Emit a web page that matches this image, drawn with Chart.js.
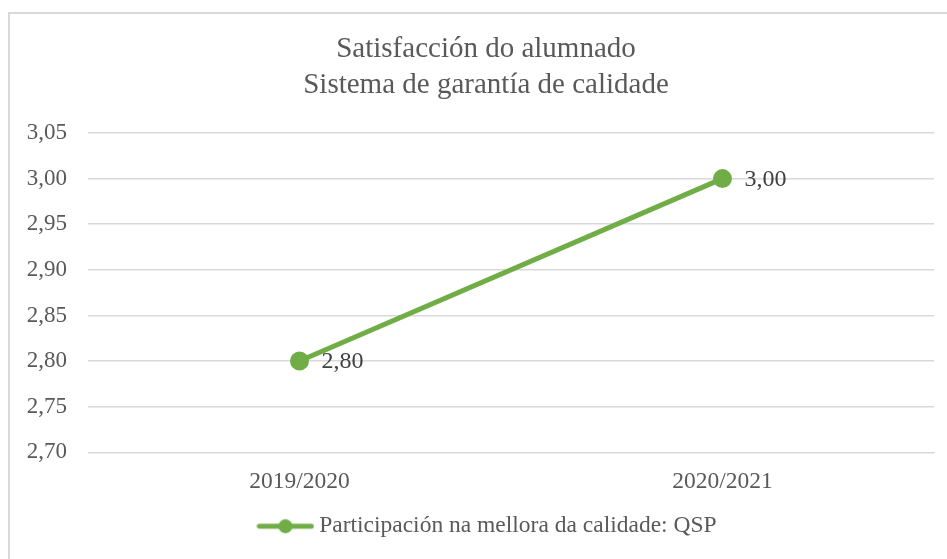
<!DOCTYPE html>
<html>
<head>
<meta charset="utf-8">
<script src="https://cdn.jsdelivr.net/npm/chart.js@4/dist/chart.umd.min.js"></script>
<style>
  html, body { margin: 0; padding: 0; background: #fff; }
  #caja { position: absolute; left: 0; top: 0; width: 947px; height: 559px; }
</style>
</head>
<body>
<div id="caja"><canvas id="grafica" width="947" height="559"></canvas></div>
<script>
// datos del grafico
const cursos = ["2019/2020", "2020/2021"];
const valores_qsp = [2.80, 3.00];
const nombre_serie = "Participación na mellora da calidade: QSP";
const titulo = ["Satisfacción do alumnado", "Sistema de garantía de calidade"];

const verde = "#70AD47";
const gris = "#595959";
const fuente = "'Liberation Serif', 'DejaVu Serif', serif";

function coma(v) {
    return v.toFixed(2).replace(".", ",");
}

// icono de la leyenda: linea con punto
const icono = document.createElement("canvas");
icono.width = 58;
icono.height = 16;
const ictx = icono.getContext("2d");
ictx.strokeStyle = verde;
ictx.lineWidth = 5;
ictx.lineCap = "round";
ictx.beginPath();
ictx.moveTo(3, 8);
ictx.lineTo(55, 8);
ictx.stroke();
ictx.fillStyle = verde;
ictx.beginPath();
ictx.arc(29, 8, 7, 0, Math.PI * 2);
ictx.fill();

// borde y titulo (el titulo va algo desplazado a la derecha, como en el original)
const borde = {
    id: "borde",
    afterLayout(chart) {
        // la leyenda tambien esta un poco a la derecha
        chart.legend.left += 14;
        chart.legend.right += 14;
    },
    beforeDraw(chart) {
        const c = chart.ctx;
        c.save();
        c.strokeStyle = "#d9d9d9";
        c.lineWidth = 2;
        c.strokeRect(9, 13, 946, 560);
        c.font = "29px " + fuente;
        c.fillStyle = gris;
        c.textAlign = "center";
        c.textBaseline = "middle";
        titulo.forEach((linea, i) => {
            c.fillText(linea, 486, 49 + i * 36);
        });
        c.restore();
    }
};

// etiquetas de datos a la derecha de cada punto
const etiquetas = {
    id: "etiquetas",
    afterDatasetsDraw(chart) {
        const c = chart.ctx;
        const meta = chart.getDatasetMeta(0);
        c.save();
        c.font = "24px " + fuente;
        c.fillStyle = "#404040";
        c.textAlign = "left";
        c.textBaseline = "middle";
        meta.data.forEach((p, i) => {
            c.fillText(coma(valores_qsp[i]), p.x + 22, p.y + 1);
        });
        c.restore();
    }
};

const ctx = document.getElementById("grafica").getContext("2d");
const miGrafica = new Chart(ctx, {
    type: "line",
    data: {
        labels: cursos,
        datasets: [{
            label: nombre_serie,
            data: valores_qsp,
            borderColor: verde,
            backgroundColor: verde,
            borderWidth: 5,
            pointRadius: 7,
            pointHoverRadius: 7,
            pointBackgroundColor: verde,
            pointBorderColor: verde,
            pointStyle: "circle",
            tension: 0
        }]
    },
    options: {
        responsive: false,
        animation: false,
        layout: { padding: { left: 18, right: 13, top: 133, bottom: 11 } },
        plugins: {
            title: { display: false },
            legend: {
                position: "bottom",
                labels: {
                    usePointStyle: true,
                    pointStyleWidth: 44,
                    boxHeight: 16,
                    color: gris,
                    font: { family: fuente, size: 23.5 },
                    padding: 12,
                    generateLabels(chart) {
                        return [{
                            text: nombre_serie,
                            pointStyle: icono,
                            fillStyle: verde,
                            strokeStyle: verde,
                            fontColor: gris,
                            lineWidth: 0,
                            datasetIndex: 0
                        }];
                    }
                }
            },
            tooltip: { enabled: false }
        },
        scales: {
            x: {
                offset: true,
                grid: { display: false },
                border: { display: true, color: "#d9d9d9", width: 1 },
                ticks: { color: gris, font: { family: fuente, size: 23.5 }, padding: 7 }
            },
            y: {
                min: 2.70,
                max: 3.05,
                border: { display: false },
                grid: { color: "#d9d9d9", lineWidth: 1.5, drawTicks: false },
                ticks: {
                    stepSize: 0.05,
                    color: gris,
                    padding: 21,
                    font: { family: fuente, size: 23 },
                    callback: (v) => coma(v)
                },
                afterFit(scale) { scale.width = 70; }
            }
        }
    },
    plugins: [borde, etiquetas]
});
</script>
</body>
</html>
